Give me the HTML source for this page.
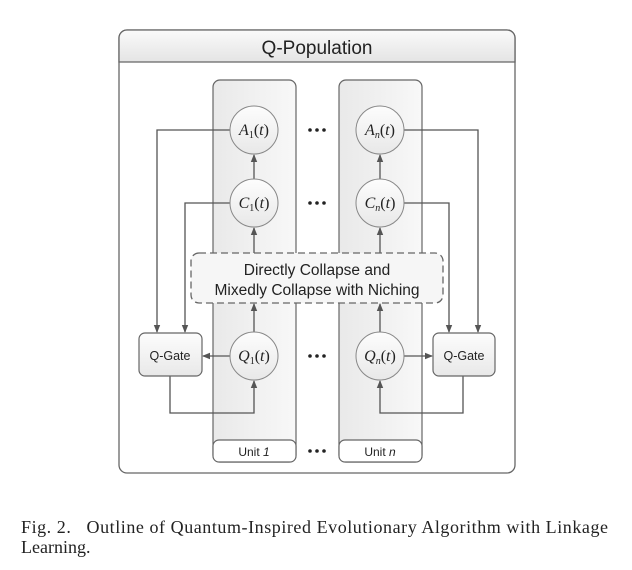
<!DOCTYPE html>
<html><head><meta charset="utf-8"><style>
html,body{margin:0;padding:0;background:#fff;}
svg{display:block;}
.sans{font-family:"Liberation Sans",sans-serif;}
.math{font-family:"Liberation Serif",serif;font-style:italic;}
</style></head><body>
<svg width="632" height="570" viewBox="0 0 632 570" xmlns="http://www.w3.org/2000/svg">
<defs>
<marker id="ar" markerWidth="8" markerHeight="8" refX="7" refY="4" orient="auto" markerUnits="userSpaceOnUse">
<path d="M0,0.8 L8,4 L0,7.2 z" fill="#555"/></marker>
<linearGradient id="hg" x1="0" y1="0" x2="0" y2="1"><stop offset="0" stop-color="#fafafa"/><stop offset="1" stop-color="#e4e4e4"/></linearGradient>
<linearGradient id="cg" x1="0" y1="0" x2="0" y2="1"><stop offset="0" stop-color="#fdfdfd"/><stop offset="1" stop-color="#e8e8e8"/></linearGradient>
<linearGradient id="ug" x1="0" y1="0" x2="1" y2="0"><stop offset="0" stop-color="#e9e9e9"/><stop offset="1" stop-color="#f8f8f8"/></linearGradient>
</defs>
<g>
<rect x="119" y="30" width="396" height="443" rx="8" fill="#fff" stroke="#666" stroke-width="1.3"/>
<path d="M119,62 V38 a8,8 0 0 1 8,-8 H507 a8,8 0 0 1 8,8 V62 Z" fill="url(#hg)" stroke="#666" stroke-width="1.3"/>
<text x="317" y="54" text-anchor="middle" class="sans" font-size="19" fill="#222">Q-Population</text>
</g>
<g>
<rect x="213" y="80" width="83" height="382" rx="7" fill="url(#ug)" stroke="#666" stroke-width="1.2"/>
<rect x="213" y="440" width="83" height="22" rx="6" fill="#fff" stroke="#666" stroke-width="1.2"/>
<text x="254" y="456" text-anchor="middle" class="sans" font-size="12" fill="#222">Unit <tspan font-style="italic">1</tspan></text>
</g>
<g>
<rect x="339" y="80" width="83" height="382" rx="7" fill="url(#ug)" stroke="#666" stroke-width="1.2"/>
<rect x="339" y="440" width="83" height="22" rx="6" fill="#fff" stroke="#666" stroke-width="1.2"/>
<text x="380" y="456" text-anchor="middle" class="sans" font-size="12" fill="#222">Unit <tspan font-style="italic">n</tspan></text>
</g>
<g stroke="#555" stroke-width="1.3" fill="none">
<path d="M230,130 H157 V332" marker-end="url(#ar)"/>
<path d="M230,203 H185 V332" marker-end="url(#ar)"/>
<path d="M404,130 H478 V332" marker-end="url(#ar)"/>
<path d="M404,203 H449 V332" marker-end="url(#ar)"/>
<path d="M254,179 V155" marker-end="url(#ar)"/>
<path d="M380,179 V155" marker-end="url(#ar)"/>
<path d="M254,253 V228" marker-end="url(#ar)"/>
<path d="M380,253 V228" marker-end="url(#ar)"/>
<path d="M254,332 V304" marker-end="url(#ar)"/>
<path d="M380,332 V304" marker-end="url(#ar)"/>
<path d="M230,356 H203" marker-end="url(#ar)"/>
<path d="M404,356 H432" marker-end="url(#ar)"/>
<path d="M170,376 V413 H254 V381" marker-end="url(#ar)"/>
<path d="M463,376 V413 H380 V381" marker-end="url(#ar)"/>
</g>
<g>
<rect x="191" y="253" width="252" height="50" rx="8" fill="#f6f6f6" stroke="#666" stroke-width="1.3" stroke-dasharray="7,4"/>
<text x="317" y="275" text-anchor="middle" class="sans" font-size="15.5" fill="#222">Directly Collapse and</text>
<text x="317" y="295" text-anchor="middle" class="sans" font-size="15.5" fill="#222">Mixedly Collapse with Niching</text>
</g>
<g>
<rect x="139" y="333" width="63" height="43" rx="6" fill="url(#cg)" stroke="#666" stroke-width="1.2"/>
<text x="170" y="360" text-anchor="middle" class="sans" font-size="12.5" fill="#222">Q-Gate</text>
</g>
<g>
<rect x="433" y="333" width="62" height="43" rx="6" fill="url(#cg)" stroke="#666" stroke-width="1.2"/>
<text x="464" y="360" text-anchor="middle" class="sans" font-size="12.5" fill="#222">Q-Gate</text>
</g>
<g stroke="#888" stroke-width="1" fill="url(#cg)">
<circle cx="254" cy="130" r="24"/>
<circle cx="380" cy="130" r="24"/>
<circle cx="254" cy="203" r="24"/>
<circle cx="380" cy="203" r="24"/>
<circle cx="254" cy="356" r="24"/>
<circle cx="380" cy="356" r="24"/>
</g>
<g class="math" font-size="16" fill="#222" text-anchor="middle">
<text x="254" y="135">A<tspan font-size="10" dy="3" font-style="normal">1</tspan><tspan dy="-3" font-style="normal">(</tspan>t<tspan font-style="normal">)</tspan></text>
<text x="380" y="135">A<tspan font-size="10" dy="3">n</tspan><tspan dy="-3" font-style="normal">(</tspan>t<tspan font-style="normal">)</tspan></text>
<text x="254" y="208">C<tspan font-size="10" dy="3" font-style="normal">1</tspan><tspan dy="-3" font-style="normal">(</tspan>t<tspan font-style="normal">)</tspan></text>
<text x="380" y="208">C<tspan font-size="10" dy="3">n</tspan><tspan dy="-3" font-style="normal">(</tspan>t<tspan font-style="normal">)</tspan></text>
<text x="254" y="361">Q<tspan font-size="10" dy="3" font-style="normal">1</tspan><tspan dy="-3" font-style="normal">(</tspan>t<tspan font-style="normal">)</tspan></text>
<text x="380" y="361">Q<tspan font-size="10" dy="3">n</tspan><tspan dy="-3" font-style="normal">(</tspan>t<tspan font-style="normal">)</tspan></text>
</g>
<g fill="#222">
<circle cx="310" cy="130" r="1.8"/><circle cx="317" cy="130" r="1.8"/><circle cx="324" cy="130" r="1.8"/>
<circle cx="310" cy="203" r="1.8"/><circle cx="317" cy="203" r="1.8"/><circle cx="324" cy="203" r="1.8"/>
<circle cx="310" cy="356" r="1.8"/><circle cx="317" cy="356" r="1.8"/><circle cx="324" cy="356" r="1.8"/>
<circle cx="310" cy="451" r="1.8"/><circle cx="317" cy="451" r="1.8"/><circle cx="324" cy="451" r="1.8"/>
</g>
<g font-family="Liberation Serif, serif" font-size="18" fill="#222">
<text x="21" y="533" textLength="587" lengthAdjust="spacing">Fig. 2.&#160;&#160;&#160;Outline of Quantum-Inspired Evolutionary Algorithm with Linkage</text>
<text x="21" y="553">Learning.</text>
</g>
</svg>
</body></html>
